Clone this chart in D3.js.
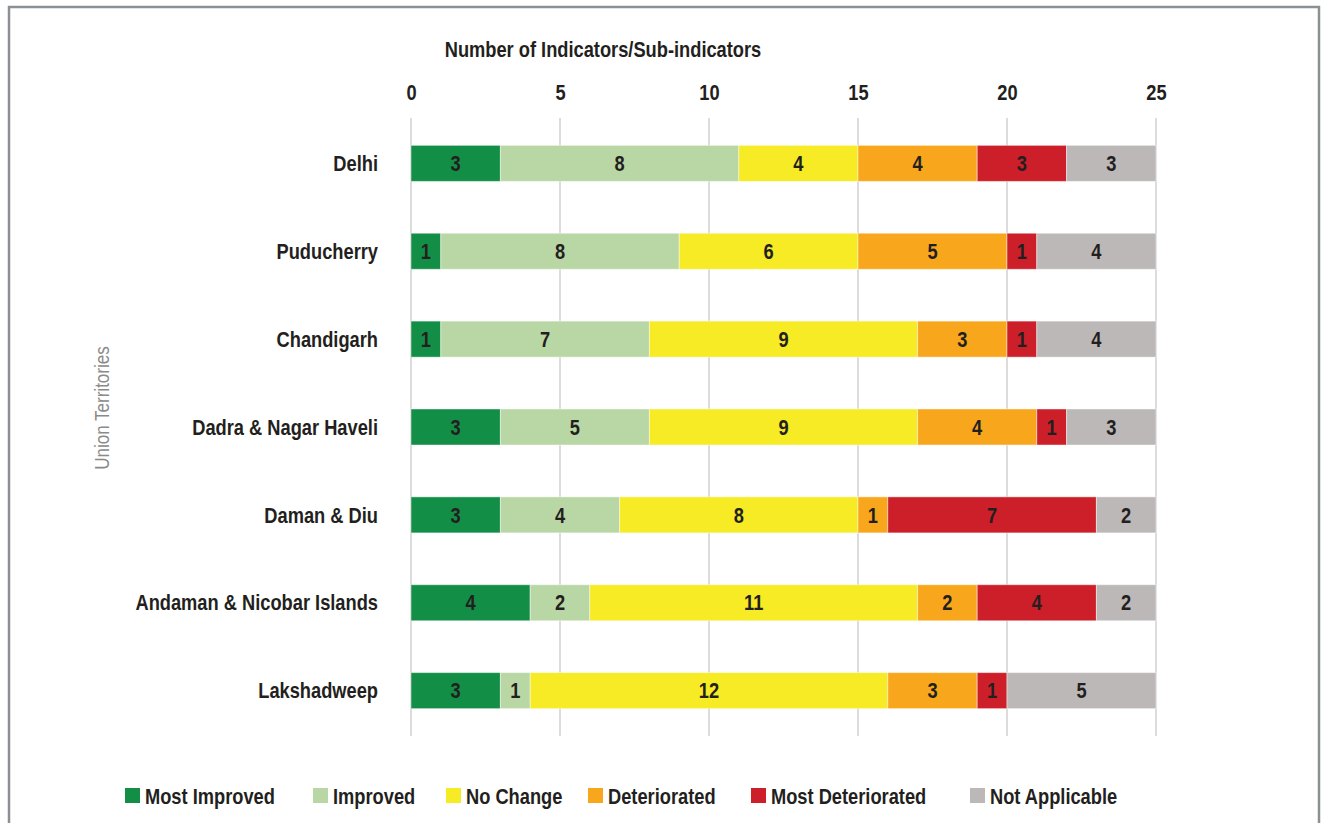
<!DOCTYPE html>
<html>
<head>
<meta charset="utf-8">
<script src="https://cdn.jsdelivr.net/npm/d3@7"></script>
<style>
  body { margin: 0; background: #fff; }
  svg text { font-family: "Liberation Sans", Arial, sans-serif; fill: #231f20; }
</style>
</head>
<body>
<div id="chart"></div>
<script>
// categories (top to bottom)
const territories = ['Delhi', 'Puducherry', 'Chandigarh', 'Dadra & Nagar Haveli', 'Daman & Diu', 'Andaman & Nicobar Islands', 'Lakshadweep'];
const seriesNames = ['Most Improved', 'Improved', 'No Change', 'Deteriorated', 'Most Deteriorated', 'Not Applicable'];
const seriesColors = ['#138e46', '#b9d7a4', '#f6eb24', '#f8a71c', '#cc1f29', '#bbb8b7'];

// one array per series, in territory order
const mostImproved     = [3, 1, 1, 3, 3, 4, 3];
const improved         = [8, 8, 7, 5, 4, 2, 1];
const noChange         = [4, 6, 9, 9, 8, 11, 12];
const deteriorated     = [4, 5, 3, 4, 1, 2, 3];
const mostDeteriorated = [3, 1, 1, 1, 7, 4, 1];
const notApplicable    = [3, 4, 4, 3, 2, 2, 5];
const xTicks = [0, 5, 10, 15, 20, 25];

const seriesValues = [mostImproved, improved, noChange, deteriorated, mostDeteriorated, notApplicable];

const width = 1322, height = 823;
const margin = {top: 119, right: 166, bottom: 88, left: 411};
const fontSize = 21.5;
const narrow = 0.85; // squeeze the sans face into a condensed look

const svg = d3.select('#chart').append('svg').attr('width', width).attr('height', height);

// outer frame
svg.append('rect')
    .attr('x', 9).attr('y', 7).attr('width', 1310).attr('height', 830)
    .attr('fill', 'none').attr('stroke', '#8d9093').attr('stroke-width', 2.5);

const x = d3.scaleLinear().domain([0, 25]).range([margin.left, width - margin.right]);
const y = d3.scaleBand().domain(territories).range([margin.top, height - margin.bottom]).paddingInner(0.59).paddingOuter(0.3);

// build stacked rows
const rows = territories.map((t, i) => {
    const row = {territory: t};
    seriesNames.forEach((s, j) => { row[s] = seriesValues[j][i]; });
    return row;
});
const stacked = d3.stack().keys(seriesNames)(rows);

// gridlines
svg.append('g').selectAll('line').data(xTicks).enter().append('line')
    .attr('x1', d => x(d)).attr('x2', d => x(d))
    .attr('y1', 118).attr('y2', 736)
    .attr('stroke', '#dcdcdc').attr('stroke-width', 2);

// top axis tick labels
const xAxis = d3.axisTop(x).tickValues(xTicks).tickSize(0).tickPadding(0);
const gx = svg.append('g').attr('transform', 'translate(0,100)').call(xAxis);
gx.select('.domain').remove();
gx.selectAll('text')
    .attr('font-size', fontSize).attr('font-weight', 'bold').attr('fill', '#231f20')
    .attr('font-family', '"Liberation Sans", Arial, sans-serif')
    .attr('transform', `scale(${narrow},1)`);

// axis title
svg.append('text')
    .attr('transform', `translate(603,57) scale(${narrow},1)`)
    .attr('text-anchor', 'middle')
    .attr('font-size', fontSize).attr('font-weight', 'bold')
    .text('Number of Indicators/Sub-indicators');

// y axis title
svg.append('text')
    .attr('transform', `translate(109,408) rotate(-90) scale(${narrow},1)`)
    .attr('text-anchor', 'middle').attr('font-size', 20)
    .style('fill', '#8a8a8a')
    .text('Union Territories');

// category labels
svg.append('g').selectAll('text').data(territories).enter().append('text')
    .attr('transform', d => `translate(378,${y(d) + y.bandwidth() / 2}) scale(${narrow},1)`)
    .attr('dy', '0.36em')
    .attr('text-anchor', 'end')
    .attr('font-size', fontSize).attr('font-weight', 'bold')
    .text(d => d);

// bars
const layers = svg.append('g').selectAll('g').data(stacked).enter().append('g')
    .attr('fill', (d, i) => seriesColors[i]);

layers.selectAll('rect').data(d => d).enter().append('rect')
    .attr('x', d => x(d[0]))
    .attr('y', d => y(d.data.territory))
    .attr('width', d => x(d[1]) - x(d[0]))
    .attr('height', y.bandwidth())
    .attr('stroke', 'rgba(255,255,255,0.45)').attr('stroke-width', 1);

layers.selectAll('text').data(d => d).enter().append('text')
    .attr('transform', d => `translate(${(x(d[0]) + x(d[1])) / 2},${y(d.data.territory) + y.bandwidth() / 2}) scale(${narrow},1)`)
    .attr('dy', '0.36em')
    .attr('text-anchor', 'middle')
    .attr('font-size', fontSize).attr('font-weight', 'bold')
    .text(d => d[1] - d[0]);

// legend
const legendX = [125, 313, 446, 588, 751, 970];
const legend = svg.append('g').selectAll('g').data(seriesNames).enter().append('g')
    .attr('transform', (d, i) => `translate(${legendX[i]},788)`);
legend.append('rect').attr('width', 15).attr('height', 15).attr('fill', (d, i) => seriesColors[i]);
legend.append('text')
    .attr('transform', `translate(20,16) scale(${narrow},1)`)
    .attr('font-size', fontSize).attr('font-weight', 'bold')
    .text(d => d);
</script>
</body>
</html>
